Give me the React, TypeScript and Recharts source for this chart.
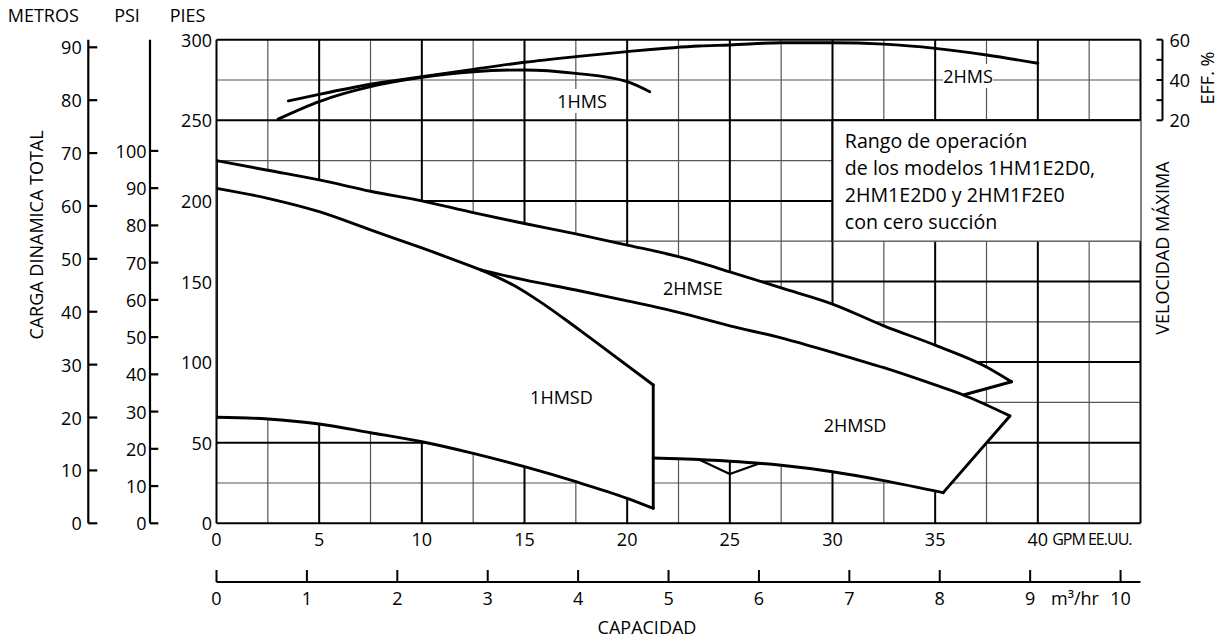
import React from 'react';
import {
  ComposedChart,
  XAxis,
  YAxis,
  CartesianGrid,
  Area,
  Line,
  ReferenceArea,
  ReferenceDot,
  ReferenceLine,
} from 'recharts';

const FONT = '"Open Sans", "Noto Sans", sans-serif';

// ---------- axis ticks ----------
const gpmTicks = [0, 5, 10, 15, 20, 25, 30, 35, 40];
const m3Ticks = [0, 1, 2, 3, 4, 5, 6, 7, 8, 9, 10];
const piesTicks = [0, 50, 100, 150, 200, 250, 300];
const psiTicks = [0, 10, 20, 30, 40, 50, 60, 70, 80, 90, 100];
const metrosTicks = [0, 10, 20, 30, 40, 50, 60, 70, 80, 90];
const effTicks = [20, 30, 40, 50, 60];

// grid
const majorGpm = [0, 5, 10, 15, 20, 25, 30, 35, 40, 45];
const minorGpm = [2.5, 7.5, 12.5, 17.5, 22.5, 27.5, 32.5, 37.5, 42.5];
const majorFt = [0, 50, 100, 150, 200, 250, 300];
const minorFt = [25, 75, 125, 175, 225, 275];

// ---------- curves (GPM -> head in ft) ----------
// 2HMSE upper limit
const hmseTopG = [0, 2.5, 5, 7.5, 10, 12.5, 15, 17.5, 20, 22.5, 25, 27.5, 30, 32.5, 35, 37.5, 38.72];
const hmseTopFt = [225, 219, 213, 206, 200, 192.7, 186, 179.5, 172.6, 165.4, 156, 146, 136, 122.5, 110.5, 97, 87.8];
// 1HMSD upper limit up to the branch point
const hmsdTopG = [0, 2.5, 5, 7.5, 10, 12.9];
const hmsdTopFt = [207.8, 201.6, 193.3, 182, 170.8, 157.1];
// dividing line 2HMSE / 2HMSD (from branch point to tip)
const splitG = [12.9, 15, 17.5, 20, 22.5, 25, 27.5, 30, 32.5, 35, 36.37, 38.64];
const splitFt = [157.1, 151, 144.7, 138, 130.8, 122.5, 115, 106, 96.5, 85.8, 79.6, 66.6];
const notchG = 36.37;
// steep 1HMSD upper limit after the branch point
const steepG = [12.9, 14.45, 15.75, 16.9, 18.2, 21.27];
const steepFt = [157.1, 147.8, 137.5, 127.2, 115, 85.8];
// 1HMSD lower limit
const hmsdBottomG = [0, 2.5, 5, 7.5, 10, 12.5, 15, 17.5, 20, 21.27];
const hmsdBottomFt = [65.8, 64.7, 61.6, 56.2, 50.6, 43.4, 35.1, 25.8, 15.5, 9.3];
// 2HMSD lower limit
const twoBottomG = [21.27, 22.5, 25, 27.5, 30, 32.5, 35.39];
const twoBottomFt = [40.5, 40, 38.5, 36, 32, 26.5, 19];
// small V below 2HMSD
const vNotchG = [23.55, 25, 26.46];
const vNotchFt = [39.3, 30.6, 37.2];

// efficiency curves (GPM -> EFF %)
const eff1G = [3.0, 5, 7.5, 10, 12.5, 15, 17.5, 20, 21.1];
const eff1 = [20.6, 29.3, 36.7, 41.3, 44.1, 45.0, 43.3, 39.2, 34.2];
const eff2G = [3.5, 5, 7.5, 10, 12.5, 15, 17.5, 20, 23.5, 25, 27.5, 30, 32.5, 35, 37.5, 40];
const eff2 = [29.6, 32.9, 37.9, 41.6, 45.3, 48.8, 51.6, 54.1, 56.9, 57.4, 58.5, 58.5, 57.8, 55.7, 52.4, 48.3];

const boxLines = [
  'Rango de operación',
  'de los modelos 1HM1E2D0,',
  '2HM1E2D0 y 2HM1F2E0',
  'con cero succión',
];

// unit conversions
const FT_PER_PSI = 2.31;
const FT_PER_M = 3.281;
const GPM_PER_M3H = 4.4029;
const GPM_MAX = 45;
const FT_MAX = 300;
const EFF_BRACKET_GPM = 46.07;

type P = { g: number; ft: number };
const pts = (g: number[], v: number[]): P[] => g.map((x, i) => ({ g: x, ft: v[i] }));

const A = pts(hmseTopG, hmseTopFt);
const B = pts(hmsdTopG, hmsdTopFt);
const C = pts(splitG, splitFt);
const S = pts(steepG, steepFt);
const E = pts(hmsdBottomG, hmsdBottomFt);
const D = pts(twoBottomG, twoBottomFt);

const poly2HMSE: P[] = [
  ...A,
  ...C.filter((p) => p.g <= notchG).reverse(),
  ...B.slice().reverse(),
  A[0],
];
const poly1HMSD: P[] = [...B, ...S.slice(1), ...E.slice().reverse(), B[0]];
const poly2HMSD: P[] = [...C, ...D.slice().reverse(), ...S.slice().reverse()];

// straight edges of the regions
const leftEdge: P[] = [E[0], A[0]];
const tipBack: P[] = [A[A.length - 1], C.filter((p) => p.g === notchG)[0]];
const hmsdRightEdge: P[] = [E[E.length - 1], S[S.length - 1]];
const twoTipEdge: P[] = [D[D.length - 1], C[C.length - 1]];

const effData1 = eff1G.map((g, i) => ({ g, eff: eff1[i] }));
const effData2 = eff2G.map((g, i) => ({ g, eff: eff2[i] }));
const vNotch = pts(vNotchG, vNotchFt);

const txt = { fontFamily: FONT, fill: '#000' } as const;

const GpmTick = (p: any) => (
  <text x={p.x} y={p.y + 16} textAnchor="middle" dominantBaseline="central" fontSize={18} {...txt}>
    {p.payload.value}
  </text>
);
const M3Tick = (p: any) => (
  <g>
    <line x1={p.x} y1={p.y} x2={p.x} y2={p.y - 12} stroke="#000" strokeWidth={2} />
    <text x={p.x} y={p.y + 16} textAnchor="middle" dominantBaseline="central" fontSize={18} {...txt}>
      {p.payload.value}
    </text>
  </g>
);
const PiesTick = (p: any) => (
  <text x={p.x - 4.5} y={p.y} textAnchor="end" dominantBaseline="central" fontSize={18} {...txt}>
    {p.payload.value}
  </text>
);
const PsiTick = (p: any) => (
  <g>
    <line x1={p.x} y1={p.y} x2={p.x + 8.3} y2={p.y} stroke="#000" strokeWidth={2.2} />
    <text x={p.x - 3.5} y={p.y} textAnchor="end" dominantBaseline="central" fontSize={18} {...txt}>
      {p.payload.value}
    </text>
  </g>
);
const MetrosTick = (p: any) => (
  <g>
    <line x1={p.x} y1={p.y} x2={p.x + 9} y2={p.y} stroke="#000" strokeWidth={2.2} />
    <text x={p.x - 6.6} y={p.y} textAnchor="end" dominantBaseline="central" fontSize={18} {...txt}>
      {p.payload.value}
    </text>
  </g>
);
const EffTick = (p: any) => (
  <g>
    <line x1={p.x + 16} y1={p.y} x2={p.x + 22} y2={p.y} stroke="#000" strokeWidth={2} />
    {p.payload.value % 20 === 0 && (
      <text x={p.x + 29} y={p.y} textAnchor="start" dominantBaseline="central" fontSize={18} {...txt}>
        {p.payload.value}
      </text>
    )}
  </g>
);

const metrosLabel = (p: any) => {
  const vb = p.viewBox;
  const cx = vb.x + 35.5;
  const cy = vb.y + 195.3;
  return (
    <g>
      <text x={vb.x + 43.3} y={vb.y - 24.7} textAnchor="middle" dominantBaseline="central" fontSize={18} {...txt}>
        METROS
      </text>
      <text x={cx} y={cy} textAnchor="middle" dominantBaseline="central" fontSize={18} transform={`rotate(-90 ${cx} ${cy})`} {...txt}>
        CARGA DINAMICA TOTAL
      </text>
    </g>
  );
};
const titleLabel = (t: string, dx: number) => (p: any) => {
  const vb = p.viewBox;
  return (
    <text x={vb.x + dx} y={vb.y - 24.7} textAnchor="middle" dominantBaseline="central" fontSize={18} {...txt}>
      {t}
    </text>
  );
};
const effLabel = (p: any) => {
  const vb = p.viewBox;
  const ex = vb.x + 66.5;
  const ey = vb.y + 38.3;
  const vx = vb.x + 21.2;
  const vy = vb.y + 208.3;
  return (
    <g>
      <text x={ex} y={ey} textAnchor="middle" dominantBaseline="central" fontSize={18} transform={`rotate(-90 ${ex} ${ey})`} {...txt}>
        EFF. %
      </text>
      <text x={vx} y={vy} textAnchor="middle" dominantBaseline="central" fontSize={18} transform={`rotate(-90 ${vx} ${vy})`} {...txt}>
        VELOCIDAD MÁXIMA
      </text>
    </g>
  );
};
const gpmLabel = (p: any) => {
  const vb = p.viewBox;
  return (
    <text x={vb.x + vb.width - 9} y={vb.y + 16} textAnchor="end" dominantBaseline="central" fontSize={16} letterSpacing={-1} {...txt}>
      GPM EE.UU.
    </text>
  );
};
const m3Label = (p: any) => {
  const vb = p.viewBox;
  return (
    <g>
      <text x={vb.x + 858.5} y={vb.y + 16} textAnchor="middle" dominantBaseline="central" fontSize={18} {...txt}>
        m³/hr
      </text>
      <text x={vb.x + 430.5} y={vb.y + 45} textAnchor="middle" dominantBaseline="central" fontSize={18} {...txt}>
        CAPACIDAD
      </text>
    </g>
  );
};
const boxLabel = (p: any) => {
  const vb = p.viewBox;
  return (
    <g>
      {boxLines.map((t, i) => (
        <text key={i} x={vb.x + 12.3} y={vb.y + 19.7 + i * 27.2} dominantBaseline="central" fontSize={19.6} {...txt}>
          {t}
        </text>
      ))}
    </g>
  );
};
const tagLabel = (t: string, bg: boolean) => (p: any) => {
  const vb = p.viewBox;
  const cx = vb.x + vb.width / 2;
  const cy = vb.y + vb.height / 2;
  const w = t.length * 11 + 6;
  return (
    <g>
      {bg && <rect x={cx - w / 2} y={cy - 12} width={w} height={24} fill="#fff" />}
      <text x={cx} y={cy} textAnchor="middle" dominantBaseline="central" fontSize={18} {...txt}>
        {t}
      </text>
    </g>
  );
};

const fillStyle = {
  type: 'linear' as const,
  dataKey: 'ft',
  fill: '#fff',
  fillOpacity: 1,
  stroke: 'none',
  dot: false,
  activeDot: false,
  isAnimationActive: false,
};

const outline = {
  dataKey: 'ft',
  stroke: '#000',
  strokeWidth: 2.9,
  strokeLinecap: 'round' as const,
  dot: false,
  activeDot: false,
  isAnimationActive: false,
};

export default function App() {
  return (
    <div style={{ position: 'fixed', left: 0, top: 0, width: 1225, height: 644, fontFamily: FONT, background: '#fff' }}>
      <ComposedChart width={1225} height={644} margin={{ top: 39.7, right: 0, bottom: 0, left: 0 }}>
        <XAxis
          dataKey="g"
          type="number"
          domain={[0, GPM_MAX]}
          ticks={gpmTicks}
          interval={0}
          allowDataOverflow
          height={58.7}
          axisLine={false}
          tickLine={false}
          tickSize={0}
          tickMargin={0}
          tick={<GpmTick />}
          label={{ content: gpmLabel }}
        />
        <XAxis
          xAxisId="m3"
          dataKey="m3"
          type="number"
          domain={[0, GPM_MAX / GPM_PER_M3H]}
          ticks={m3Ticks}
          interval={0}
          allowDataOverflow
          height={62}
          axisLine={{ stroke: '#000', strokeWidth: 2.2 }}
          tickLine={false}
          tickSize={0}
          tickMargin={0}
          tick={<M3Tick />}
          label={{ content: m3Label }}
        />
        <YAxis
          type="number"
          domain={[0, FT_MAX]}
          ticks={piesTicks}
          interval={0}
          allowDataOverflow
          width={66.5}
          axisLine={false}
          tickLine={false}
          tickSize={0}
          tickMargin={0}
          tick={<PiesTick />}
          label={{ content: titleLabel('PIES', 37.5) }}
        />
        <YAxis
          yAxisId="b_m"
          type="number"
          domain={[0, FT_MAX / FT_PER_M]}
          ticks={metrosTicks}
          interval={0}
          allowDataOverflow
          width={88.3}
          axisLine={{ stroke: '#000', strokeWidth: 2.2 }}
          tickLine={false}
          tickSize={0}
          tickMargin={0}
          tick={<MetrosTick />}
          label={{ content: metrosLabel }}
        />
        <YAxis
          yAxisId="a_psi"
          type="number"
          domain={[0, FT_MAX / FT_PER_PSI]}
          ticks={psiTicks}
          interval={0}
          allowDataOverflow
          width={61.7}
          axisLine={{ stroke: '#000', strokeWidth: 2.2 }}
          tickLine={false}
          tickSize={0}
          tickMargin={0}
          tick={<PsiTick />}
          label={{ content: titleLabel('PSI', 38.7) }}
        />
        <YAxis
          yAxisId="eff"
          orientation="right"
          type="number"
          domain={[-180, 60]}
          ticks={effTicks}
          interval={0}
          allowDataOverflow
          width={84.5}
          axisLine={false}
          tickLine={false}
          tickSize={0}
          tickMargin={0}
          tick={<EffTick />}
          label={{ content: effLabel }}
        />

        <CartesianGrid horizontalValues={minorFt} verticalValues={minorGpm} stroke="#555" strokeWidth={1.2} />
        <CartesianGrid horizontalValues={majorFt} verticalValues={majorGpm} stroke="#000" strokeWidth={2} />

        <Area data={poly2HMSE} {...fillStyle} />
        <Area data={poly1HMSD} {...fillStyle} />
        <Area data={poly2HMSD} {...fillStyle} />

        <Line data={A} type="monotone" {...outline} />
        <Line data={B} type="monotone" {...outline} />
        <Line data={C} type="monotone" {...outline} />
        <Line data={S} type="monotone" {...outline} />
        <Line data={E} type="monotone" {...outline} />
        <Line data={D} type="monotone" {...outline} />
        <Line data={leftEdge} type="linear" {...outline} />
        <Line data={tipBack} type="linear" {...outline} />
        <Line data={hmsdRightEdge} type="linear" {...outline} />
        <Line data={twoTipEdge} type="linear" {...outline} />
        <Line data={vNotch} type="linear" {...outline} strokeWidth={2.2} />

        <ReferenceArea x1={30} x2={45} y1={175} y2={250} fill="#fff" fillOpacity={1} stroke="none" label={{ content: boxLabel }} />
        <ReferenceLine segment={[{ x: 30, y: 175 }, { x: 30, y: 250 }]} stroke="#000" strokeWidth={2} />
        <ReferenceLine segment={[{ x: 30, y: 250 }, { x: 45, y: 250 }]} stroke="#000" strokeWidth={2} />
        <ReferenceLine segment={[{ x: 30, y: 175 }, { x: 45, y: 175 }]} stroke="#555" strokeWidth={1.2} />

        <Line yAxisId="eff" data={effData1} dataKey="eff" type="monotone" stroke="#000" strokeWidth={2.9} strokeLinecap="round" dot={false} activeDot={false} isAnimationActive={false} />
        <Line yAxisId="eff" data={effData2} dataKey="eff" type="monotone" stroke="#000" strokeWidth={2.9} strokeLinecap="round" dot={false} activeDot={false} isAnimationActive={false} />

        <ReferenceLine
          yAxisId="eff"
          segment={[{ x: EFF_BRACKET_GPM, y: 20 }, { x: EFF_BRACKET_GPM, y: 60 }]}
          ifOverflow="visible"
          stroke="#000"
          strokeWidth={2}
        />

        <ReferenceDot x={17.8} y={262} r={0} fill="none" stroke="none" label={{ content: tagLabel('1HMS', true) }} />
        <ReferenceDot x={36.6} y={277.5} r={0} fill="none" stroke="none" label={{ content: tagLabel('2HMS', true) }} />
        <ReferenceDot x={23.2} y={146} r={0} fill="none" stroke="none" label={{ content: tagLabel('2HMSE', false) }} />
        <ReferenceDot x={16.8} y={78.5} r={0} fill="none" stroke="none" label={{ content: tagLabel('1HMSD', false) }} />
        <ReferenceDot x={31.1} y={61} r={0} fill="none" stroke="none" label={{ content: tagLabel('2HMSD', false) }} />
      </ComposedChart>
    </div>
  );
}
